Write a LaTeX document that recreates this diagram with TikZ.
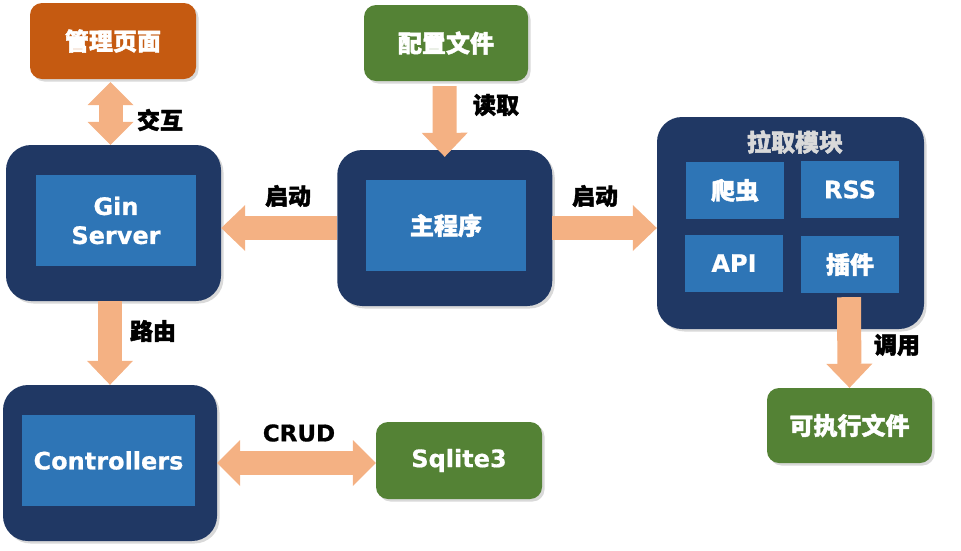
\documentclass[tikz,border=0pt]{standalone}
\usepackage{fontspec}
\setmainfont{DejaVu Sans}[BoldFeatures={FakeBold=0.6}]
\newfontfamily\cjk{Noto Sans CJK SC}[BoldFeatures={FakeBold=1.8}]
\usetikzlibrary{arrows.meta,shadows,calc}
\definecolor{cOrange}{HTML}{C55A11}
\definecolor{cGreen}{HTML}{548235}
\definecolor{cNavy}{HTML}{203864}
\definecolor{cBlue}{HTML}{2E75B6}
\definecolor{cArrow}{HTML}{F4B183}
\definecolor{cTitle}{HTML}{D9D9D9}
\begin{document}
\begin{tikzpicture}[x=1pt,y=-1pt,
  boxshadow/.style={drop shadow={shadow xshift=2.5pt,shadow yshift=-2.5pt,opacity=0.3}},
  smallbox/.style={rounded corners=12pt, boxshadow, text=white, font=\bfseries\fontsize{24}{29}\selectfont, align=center, inner sep=0pt},
  outerbox/.style={fill=cNavy, rounded corners=25pt, boxshadow, inner sep=0pt},
  innerbox/.style={fill=cBlue, text=white, font=\bfseries\fontsize{24}{29}\selectfont, align=center, inner sep=0pt},
  fatarrow/.style={draw=cArrow, line width=24pt, -{Triangle[width=46pt,length=24pt,line width=0pt]}},
  fatdouble/.style={draw=cArrow, line width=24pt, {Triangle[width=46pt,length=23pt,line width=0pt]}-{Triangle[width=46pt,length=23pt,line width=0pt]}},
  lbl/.style={font=\bfseries\fontsize{23}{28}\selectfont, text=black, inner sep=0pt}
]
\useasboundingbox (0,0) rectangle (961,550);

% boxes
\node[smallbox, fill=cOrange, minimum width=166pt, minimum height=76pt] (admin) at (113,41) {\cjk\bfseries 管理页面};
\node[smallbox, fill=cGreen, minimum width=164pt, minimum height=76pt] (cfg) at (446,43) {\cjk\bfseries 配置文件};

\node[outerbox, minimum width=215pt, minimum height=156pt] (ginO) at (113.5,223) {};
\node[innerbox, minimum width=160pt, minimum height=91pt] (ginI) at (116,220.5) {Gin\\Server};

\node[outerbox, minimum width=215pt, minimum height=156pt] (mainO) at (444.75,228) {};
\node[innerbox, minimum width=160pt, minimum height=91pt] (mainI) at (446,225.5) {\cjk\bfseries 主程序};

\node[outerbox, minimum width=267pt, minimum height=212pt] (pullO) at (790.5,223) {};
\node[font=\cjk\bfseries\fontsize{24}{29}\selectfont, text=cTitle, inner sep=0pt] (pullT) at (795,142) {拉取模块};
\node[innerbox, minimum width=98pt, minimum height=57pt] (crawl) at (735,190.5) {\cjk\bfseries 爬虫};
\node[innerbox, minimum width=98pt, minimum height=57pt] (rss) at (850,189.5) {RSS};
\node[innerbox, minimum width=98pt, minimum height=57pt] (api) at (734,263) {API};
\node[innerbox, minimum width=98pt, minimum height=57pt] (plug) at (850,264.5) {\cjk\bfseries 插件};

\node[smallbox, fill=cGreen, minimum width=165pt, minimum height=75pt] (exe) at (849.5,425.5) {\cjk\bfseries 可执行文件};

\node[outerbox, minimum width=214pt, minimum height=156pt] (ctrlO) at (110,463) {};
\node[innerbox, minimum width=173pt, minimum height=91pt] (ctrlI) at (108.5,460.5) {Controllers};

\node[smallbox, fill=cGreen, minimum width=166pt, minimum height=77pt] (sql) at (459,460.5) {Sqlite3};

% arrows
\draw[fatdouble] ($(admin.south)+(-2.5,3)$) -- ($(ginO.north)+(-3,0)$);
\draw[fatarrow] ($(cfg.south)+(-1.5,5)$) -- ($(mainO.north)+(0,7)$);
\draw[fatarrow] (mainO.west) -- (mainO.west -| ginO.east);
\draw[fatarrow] (mainO.east) -- (mainO.east -| pullO.west);
\draw[fatarrow] (ginO.south -| ctrlO.north) -- (ctrlO.north);
\draw[fatdouble] (ctrlO.east) -- (ctrlO.east -| sql.west);
\draw[fatarrow] ($(plug.south)+(-1,4)$) -- (exe.north);

% labels
\node[lbl] (l1) at (160,120) {\cjk\bfseries 交互};
\node[lbl] (l2) at (496,105) {\cjk\bfseries 读取};
\node[lbl] (l3) at (288,196) {\cjk\bfseries 启动};
\node[lbl] (l4) at (595,196) {\cjk\bfseries 启动};
\node[lbl] (l5) at (153,331) {\cjk\bfseries 路由};
\node[lbl] (l6) at (897,345) {\cjk\bfseries 调用};
\node[lbl] (l7) at (299,433) {CRUD};
\end{tikzpicture}
\end{document}
